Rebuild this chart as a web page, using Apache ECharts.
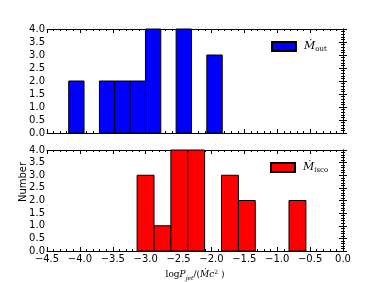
<!DOCTYPE html>
<html><head><meta charset="utf-8">
<script src="https://cdn.jsdelivr.net/npm/echarts@6/dist/echarts.min.js"></script>
<style>html,body{margin:0;padding:0;background:#fff}#c{width:376px;height:282px}</style>
</head><body><div id="c"></div>
<script>
var outEdges = [-4.17, -3.937, -3.703, -3.47, -3.237, -3.003, -2.77, -2.537, -2.303, -2.07, -1.836];
var outCounts = [2, 0, 2, 2, 2, 4, 0, 4, 0, 3];
var iscoEdges = [-3.13, -2.873, -2.617, -2.36, -2.104, -1.847, -1.590, -1.334, -1.077, -0.821, -0.564];
var iscoCounts = [3, 1, 4, 4, 0, 3, 2, 0, 0, 2];
var xTicks = {min: -4.5, max: 0.0, step: 0.5};
var yTicks = {min: 0.0, max: 4.0, step: 0.5};

function bins(edges, counts) {
  var d = [];
  for (var i = 0; i < counts.length; i++) if (counts[i] > 0) d.push([edges[i], edges[i + 1], counts[i]]);
  return d;
}
function fmt(v) { var s = Number(v).toFixed(1); return s.replace('-', '\u2212'); }
var font = 'DejaVu Sans';
function xAx(grid, pos, labels) {
  return {
    type: 'value', gridIndex: grid, position: pos, min: xTicks.min, max: xTicks.max, interval: xTicks.step,
    axisLine: {show: true, onZero: false, lineStyle: {color: '#000', width: 1}},
    axisTick: {show: true, inside: true, length: 4, lineStyle: {color: '#000'}},
    minorTick: {show: true, splitNumber: 5, length: 2, lineStyle: {color: '#000'}},
    axisLabel: {show: labels, formatter: fmt, color: '#000', fontFamily: font, fontSize: 10, margin: 3},
    splitLine: {show: false},
    name: labels ? '{t|log}{i|P}{s|jet}{t|/(}{i|\u1E40c}{p|2}{t| )}' : '',
    nameLocation: 'middle', nameGap: 18,
    nameTextStyle: {
      fontFamily: 'DejaVu Serif', fontSize: 9, color: '#000',
      rich: {
        t: {fontFamily: 'DejaVu Serif', fontSize: 9, color: '#000'},
        i: {fontFamily: 'DejaVu Serif', fontStyle: 'italic', fontSize: 9, color: '#000'},
        s: {fontFamily: 'DejaVu Serif', fontStyle: 'italic', fontSize: 6, color: '#000', padding: [6, 0, 0, 0]},
        p: {fontFamily: 'DejaVu Serif', fontSize: 6, color: '#000', padding: [0, 0, 6, 0]}
      }
    }
  };
}
function yAx(grid, pos, labels) {
  return {
    type: 'value', gridIndex: grid, position: pos, min: yTicks.min, max: yTicks.max, interval: yTicks.step,
    axisLine: {show: true, lineStyle: {color: '#000', width: 1}},
    axisTick: {show: true, inside: true, length: 4, lineStyle: {color: '#000'}},
    minorTick: {show: true, splitNumber: 5, length: 2, lineStyle: {color: '#000'}},
    axisLabel: {show: labels, formatter: fmt, color: '#000', fontFamily: font, fontSize: 10, margin: 2},
    splitLine: {show: false}
  };
}
function render(color) {
  return function (params, api) {
    var p0 = api.coord([api.value(0), 0]);
    var p1 = api.coord([api.value(1), api.value(2)]);
    return {type: 'rect', shape: {x: p0[0], y: p1[1], width: p1[0] - p0[0], height: p0[1] - p1[1]},
      style: {fill: color, stroke: '#000', lineWidth: 1}};
  };
}
var richLeg = {
  m: {fontFamily: 'DejaVu Serif', fontStyle: 'italic', fontSize: 11, color: '#000'},
  s: {fontFamily: 'DejaVu Serif', fontSize: 7, color: '#000', padding: [6, 0, 0, 0]}
};
var chart = echarts.init(document.getElementById('c'), null, {renderer: 'canvas'});
chart.setOption({
  animation: false,
  grid: [
    {left: 47, top: 29, width: 296, height: 104},
    {left: 47, top: 150, width: 296, height: 103}
  ],
  xAxis: [xAx(0, 'bottom', false), xAx(0, 'top', false), xAx(1, 'bottom', true), xAx(1, 'top', false)],
  yAxis: [yAx(0, 'left', true), yAx(0, 'right', false), yAx(1, 'left', true), yAx(1, 'right', false)],
  legend: [
    {data: ['out'], left: 266, top: 36, icon: 'rect', itemWidth: 24, itemHeight: 9, itemGap: 6,
      formatter: function () { return '{m|\u1E40}{s|out}'; }, textStyle: {rich: richLeg, padding: [0, 0, 0, 3]}},
    {data: ['isco'], left: 265, top: 157, icon: 'rect', itemWidth: 24, itemHeight: 9, itemGap: 6,
      formatter: function () { return '{m|\u1E40}{s|isco}'; }, textStyle: {rich: richLeg, padding: [0, 0, 0, 3]}}
  ],
  graphic: [{type: 'text', x: 23, y: 182, rotation: Math.PI / 2,
    style: {text: 'Number', font: '10px DejaVu Sans', fill: '#000', align: 'center', verticalAlign: 'middle'}}],
  series: [
    {name: 'out', type: 'custom', xAxisIndex: 0, yAxisIndex: 0, data: bins(outEdges, outCounts),
      encode: {x: [0, 1], y: 2}, renderItem: render('#0000ff'),
      itemStyle: {color: '#0000ff', borderColor: '#000', borderWidth: 1}},
    {name: 'isco', type: 'custom', xAxisIndex: 2, yAxisIndex: 2, data: bins(iscoEdges, iscoCounts),
      encode: {x: [0, 1], y: 2}, renderItem: render('#ff0000'),
      itemStyle: {color: '#ff0000', borderColor: '#000', borderWidth: 1}}
  ]
});
</script></body></html>
